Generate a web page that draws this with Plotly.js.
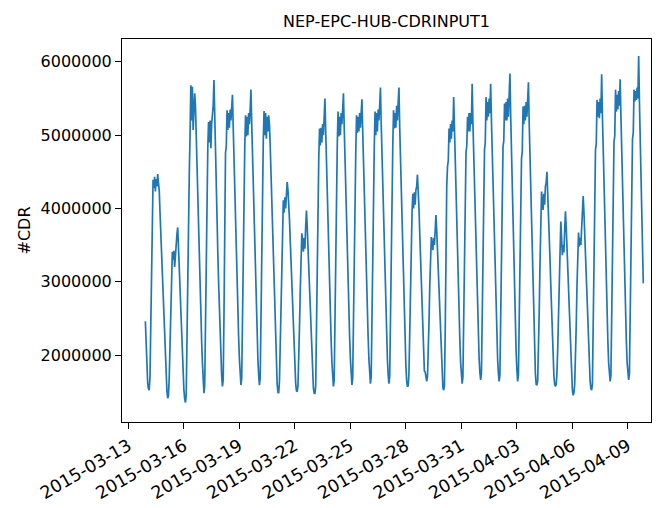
<!DOCTYPE html>
<html>
<head>
<meta charset="utf-8">
<script src="https://cdn.plot.ly/plotly-3.0.1.min.js"></script>
<style>
  html, body { margin: 0; padding: 0; overflow: hidden; background: #fff; }
  #chart { width: 660px; height: 508px; }
</style>
</head>
<body>
<div id="chart"></div>
<script>
// Hourly CDR counts (thousands), one array per calendar day.
const d0313 = [2460, 2100];
const d0314 = [1800,1620,1540,1520,1700,2300,3000,3750,4390,4280,4430,4230,4400,4300,4470,4350,4250,3950,3650,3350,3050,2750,2450,2150];
const d0315 = [1900,1680,1500,1410,1450,1700,2100,2600,3050,3410,3300,3420,3200,3400,3550,3650,3740,3450,3150,2850,2550,2250,1950,1700];
const d0316 = [1520,1400,1350,1450,2300,3500,4430,4480,5000,5680,5200,5660,5070,5450,5570,5400,4950,4500,4100,3700,3300,2900,2550,2200];
const d0317 = [1900,1650,1480,1580,2500,3700,4760,4820,5180,4900,5200,4820,5150,5300,5400,5750,5200,4750,4300,3850,3400,3000,2600,2250];
const d0318 = [1950,1720,1570,1660,2550,3750,4760,4850,5340,5070,5300,5100,5350,5200,5400,5550,5100,4650,4200,3800,3400,3000,2600,2250];
const d0319 = [1950,1720,1590,1680,2550,3750,4770,4850,5270,4980,5250,5000,5300,5150,5350,5620,5150,4700,4250,3800,3400,3000,2600,2250];
const d0320 = [1950,1720,1590,1680,2600,3800,4850,4930,5330,5000,5300,4950,5250,5050,5270,5150,4850,4450,4050,3650,3250,2850,2450,2100];
const d0321 = [1800,1600,1490,1480,1650,2200,2850,3450,3900,4110,3940,4150,4000,4200,4360,4250,4100,3850,3550,3250,2950,2650,2350,2050];
const d0322 = [1800,1620,1510,1500,1580,1900,2400,2900,3350,3660,3550,3410,3600,3450,3750,3970,3750,3450,3150,2850,2550,2250,1950,1700];
const d0323 = [1550,1480,1470,1580,2500,3650,4640,4700,5090,4860,5100,4900,5150,5000,5250,5500,5050,4600,4150,3750,3350,2950,2550,2200];
const d0324 = [1900,1680,1570,1660,2550,3750,4800,4880,5320,4980,5250,5000,5300,5150,5350,5570,5100,4650,4200,3800,3400,3000,2600,2250];
const d0325 = [1950,1720,1590,1680,2550,3700,4690,4780,5270,5030,5250,5050,5300,5100,5300,5490,5050,4600,4200,3800,3400,3000,2600,2250];
const d0326 = [1950,1730,1610,1700,2600,3750,4770,4850,5320,5000,5300,5050,5350,5200,5400,5650,5150,4700,4250,3850,3450,3050,2650,2250];
const d0327 = [1950,1730,1610,1700,2600,3750,4770,4850,5340,5090,5300,5100,5400,5200,5450,5650,5100,4650,4200,3800,3350,2950,2550,2150];
const d0328 = [1850,1650,1570,1580,1750,2300,2950,3550,3950,4200,4000,4220,4050,4250,4300,4460,4300,4000,3650,3300,2950,2600,2250,1950];
const d0329 = [1780,1770,1650,1640,1700,2000,2450,2950,3350,3610,3500,3430,3600,3500,3700,3910,3700,3400,3100,2800,2500,2200,1900,1650];
const d0330 = [1560,1520,1580,2300,3450,4300,4570,4650,5090,4900,5150,4950,5200,5050,5520,5050,4600,4150,3750,3350,2950,2550,2200,1900];
const d0331 = [1720,1610,1700,2500,3650,4500,4770,4850,5250,5050,5300,5050,5300,5150,5700,5150,4700,4250,3850,3450,3050,2650,2250,1950];
const d0401 = [1760,1660,1740,2550,3700,4550,4800,4900,5520,5200,5450,5250,5500,5300,5700,5200,4750,4300,3850,3450,3050,2650,2250,1950];
const d0402 = [1750,1640,1720,2550,3700,4550,4840,4920,5430,5200,5450,5200,5500,5250,5550,5840,5250,4750,4300,3850,3400,2950,2500,2050];
const d0403 = [1800,1640,1720,2550,3650,4450,4680,4780,5390,5150,5400,5200,5450,5250,5500,5720,5150,4700,4250,3800,3350,2900,2450,2050];
const d0404 = [1750,1600,1590,1650,2000,2600,3250,3800,4230,4100,3980,4200,4050,4300,4350,4500,4250,3950,3650,3300,2950,2600,2250,1950];
const d0405 = [1720,1600,1570,1600,1750,2100,2600,3150,3600,3820,3600,3360,3500,3400,3700,3960,3750,3450,3150,2850,2550,2250,1950,1700];
const d0406 = [1520,1450,1480,1600,1900,2400,2950,3400,3670,3480,3600,3500,3750,3900,4170,3950,3650,3350,3050,2750,2450,2150,1850,1650];
const d0407 = [1540,1520,1600,2450,3650,4500,4800,4880,5480,5250,5450,5230,5500,5300,5830,5250,4750,4300,3850,3400,2950,2550,2200,1900];
const d0408 = [1720,1640,1720,2550,3700,4550,4910,4990,5620,5320,5550,5350,5600,5400,5760,5250,4750,4300,3850,3400,2950,2550,2200,1900];
const d0409 = [1760,1660,1740,2600,3750,4600,4950,5030,5620,5460,5600,5480,5650,5500,6080,5450,4900,4350,3850,3400,2980];

// [date, first hour of the array, values]
const days = [
  ['2015-03-13', 22, d0313], ['2015-03-14', 0, d0314], ['2015-03-15', 0, d0315],
  ['2015-03-16', 0, d0316], ['2015-03-17', 0, d0317], ['2015-03-18', 0, d0318],
  ['2015-03-19', 0, d0319], ['2015-03-20', 0, d0320], ['2015-03-21', 0, d0321],
  ['2015-03-22', 0, d0322], ['2015-03-23', 0, d0323], ['2015-03-24', 0, d0324],
  ['2015-03-25', 0, d0325], ['2015-03-26', 0, d0326], ['2015-03-27', 0, d0327],
  ['2015-03-28', 0, d0328], ['2015-03-29', 0, d0329], ['2015-03-30', 0, d0330],
  ['2015-03-31', 0, d0331], ['2015-04-01', 0, d0401], ['2015-04-02', 0, d0402],
  ['2015-04-03', 0, d0403], ['2015-04-04', 0, d0404], ['2015-04-05', 0, d0405],
  ['2015-04-06', 0, d0406], ['2015-04-07', 0, d0407], ['2015-04-08', 0, d0408],
  ['2015-04-09', 0, d0409]
];

const xTickVals = ['2015-03-13','2015-03-16','2015-03-19','2015-03-22','2015-03-25',
                   '2015-03-28','2015-03-31','2015-04-03','2015-04-06','2015-04-09'];
const yTickVals = [2000000, 3000000, 4000000, 5000000, 6000000];
const yTickText = ['2000000', '3000000', '4000000', '5000000', '6000000'];

const pad = n => (n < 10 ? '0' : '') + n;
const x = [], y = [];
days.forEach(([date, h0, vals]) => {
  vals.forEach((v, i) => {
    x.push(date + ' ' + pad(h0 + i) + ':00');
    y.push(v * 1000);
  });
});

const font = 'DejaVu Sans, sans-serif';
const trace = {
  x: x, y: y, type: 'scatter', mode: 'lines',
  line: { color: '#1f77b4', width: 1.7 },
  hoverinfo: 'skip'
};

const layout = {
  width: 660, height: 508,
  margin: { l: 122, r: 9, t: 39, b: 86, pad: 0 },
  paper_bgcolor: '#fff', plot_bgcolor: '#fff',
  showlegend: false,
  font: { family: font, color: '#000', size: 16 },
  title: {
    text: 'NEP-EPC-HUB-CDRINPUT1',
    font: { family: font, size: 16, color: '#000' },
    x: 0.5, xref: 'paper', xanchor: 'center',
    y: 1, yref: 'paper', yanchor: 'bottom', pad: { b: 12 }
  },
  xaxis: {
    type: 'date',
    range: ['2015-03-12 15:42', '2015-04-10 06:00'],
    tickvals: xTickVals,
    ticktext: xTickVals,
    tickangle: -30,
    ticks: 'outside', ticklen: 6, tickwidth: 1, tickcolor: '#000',
    showline: true, linecolor: '#000', linewidth: 1, mirror: true,
    showgrid: false, zeroline: false,
    tickfont: { family: font, size: 17.5, color: '#000' }
  },
  yaxis: {
    range: [1086000, 6311000],
    tickvals: yTickVals,
    ticktext: yTickText,
    ticks: 'outside', ticklen: 6, tickwidth: 1, tickcolor: '#000',
    showline: true, linecolor: '#000', linewidth: 1, mirror: true,
    showgrid: false, zeroline: false,
    tickfont: { family: font, size: 16, color: '#000' },
    title: { text: '#CDR', font: { family: font, size: 16, color: '#000' }, standoff: 5 }
  }
};

Plotly.newPlot('chart', [trace], layout, { staticPlot: true, displayModeBar: false });
</script>
</body>
</html>
